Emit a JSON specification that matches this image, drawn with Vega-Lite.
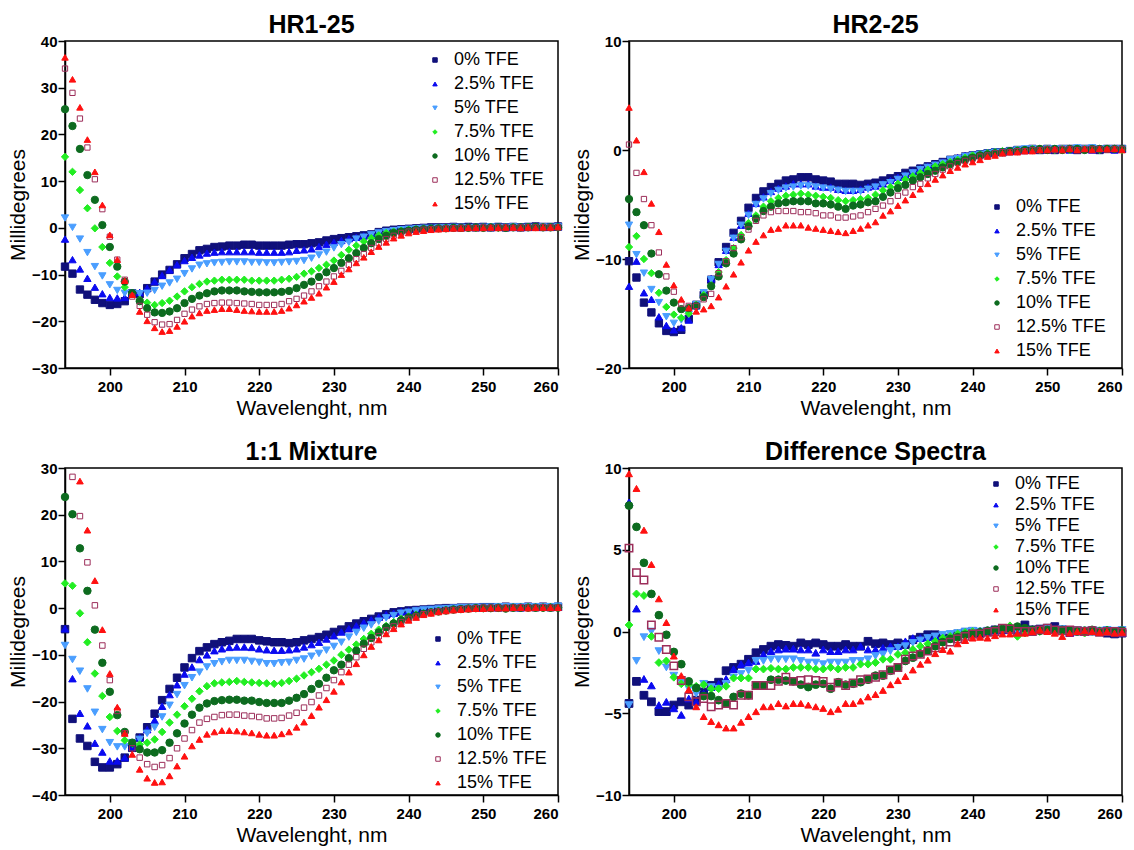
{
"$schema": "https://vega.github.io/schema/vega-lite/v6.json",
"padding": {"left": 6, "top": 12, "right": 5, "bottom": 5},
"background": "white",
"config": {
  "font": "Liberation Sans",
  "view": {"stroke": "black", "strokeWidth": 1.5},
  "axis": {"domainColor": "black", "domainWidth": 1.5, "tickColor": "black", "tickWidth": 1.5, "tickSize": 7, "labelFont": "Liberation Sans", "labelFontWeight": "bold", "labelFontSize": 15, "labelColor": "black", "titleFont": "Liberation Sans", "titleFontWeight": "normal", "titleFontSize": 21, "titleColor": "black", "grid": false},
  "axisX": {"titlePadding": 3, "labelPadding": 4},
  "axisY": {"titlePadding": 3, "labelPadding": 1},
  "title": {"font": "Liberation Sans", "fontSize": 25, "fontWeight": "bold", "color": "black", "offset": -4, "anchor": "middle"},
  "legend": {"labelFont": "Liberation Sans", "labelFontSize": 18, "labelColor": "black", "symbolSize": 20, "labelOffset": 10, "padding": 0, "rowPadding": 6, "symbolStrokeWidth": 1}
},
"datasets": {
"p1": [
{"x":194,"a":-8.3,"b":-2.4,"c":2.1,"d":15.2,"e":25.4,"f":34.1,"g":36.5},
{"x":195,"a":-9.8,"b":-6.8,"c":0.1,"d":12,"e":21.8,"f":28.9,"g":31.8},
{"x":196,"a":-13.2,"b":-8.8,"c":-2.4,"d":8.1,"e":16.9,"f":23.4,"g":25.8},
{"x":197,"a":-14.3,"b":-10.8,"c":-5.3,"d":4.2,"e":11.3,"f":17.2,"g":18.9},
{"x":198,"a":-15.4,"b":-12.7,"c":-8.3,"d":-0.1,"e":6,"f":10.4,"g":12},
{"x":199,"a":-16.1,"b":-14.1,"c":-10.3,"d":-4.1,"e":0.6,"f":4,"g":4.9},
{"x":200,"a":-16.5,"b":-14.9,"c":-12.2,"d":-7.5,"e":-4.1,"f":-1.9,"g":-1.5},
{"x":201,"a":-16.3,"b":-15,"c":-13.4,"d":-10.4,"e":-8.3,"f":-6.8,"g":-6.8},
{"x":202,"a":-15.7,"b":-14.9,"c":-14,"d":-12.7,"e":-11.5,"f":-11.1,"g":-11.3},
{"x":203,"a":-14,"b":-14,"c":-14,"d":-14,"e":-14,"f":-14.7,"g":-14.3},
{"x":204,"a":-14.2,"b":-13.8,"c":-14.1,"d":-15.4,"e":-15.7,"f":-16.7,"g":-17.9},
{"x":205,"a":-12.9,"b":-12.9,"c":-14,"d":-16,"e":-17.2,"f":-18.6,"g":-19.9},
{"x":206,"a":-11.5,"b":-11.5,"c":-13.4,"d":-16.5,"e":-18.1,"f":-20.2,"g":-21.4},
{"x":207,"a":-10,"b":-10.2,"c":-12.5,"d":-16.1,"e":-18.2,"f":-20.7,"g":-22.2},
{"x":208,"a":-9,"b":-9,"c":-11.8,"d":-15.6,"e":-17.9,"f":-20.6,"g":-22},
{"x":209,"a":-7.8,"b":-7.9,"c":-11,"d":-14.7,"e":-17.2,"f":-19.7,"g":-21.1},
{"x":210,"a":-6.5,"b":-7,"c":-9.8,"d":-13.6,"e":-16.1,"f":-18.4,"g":-20},
{"x":211,"a":-5.6,"b":-6.3,"c":-8.8,"d":-12.7,"e":-15.2,"f":-17.5,"g":-18.9},
{"x":212,"a":-4.8,"b":-5.8,"c":-8,"d":-12,"e":-14.5,"f":-16.8,"g":-18.2},
{"x":213,"a":-4.5,"b":-5.4,"c":-7.7,"d":-11.5,"e":-14,"f":-16.3,"g":-17.7},
{"x":214,"a":-4.1,"b":-5.2,"c":-7.5,"d":-11.3,"e":-13.6,"f":-16.1,"g":-17.5},
{"x":215,"a":-4,"b":-5.1,"c":-7.4,"d":-11.1,"e":-13.4,"f":-16,"g":-17.3},
{"x":216,"a":-3.8,"b":-5.1,"c":-7.3,"d":-11.1,"e":-13.4,"f":-16,"g":-17.3},
{"x":217,"a":-3.8,"b":-5.1,"c":-7.3,"d":-11.1,"e":-13.4,"f":-16.1,"g":-17.5},
{"x":218,"a":-3.6,"b":-5.1,"c":-7.3,"d":-11.1,"e":-13.6,"f":-16.2,"g":-17.7},
{"x":219,"a":-3.6,"b":-5.1,"c":-7.4,"d":-11.3,"e":-13.7,"f":-16.3,"g":-17.8},
{"x":220,"a":-3.8,"b":-5.2,"c":-7.4,"d":-11.3,"e":-13.8,"f":-16.5,"g":-17.9},
{"x":221,"a":-3.8,"b":-5.2,"c":-7.5,"d":-11.3,"e":-13.8,"f":-16.5,"g":-17.9},
{"x":222,"a":-3.8,"b":-5.2,"c":-7.5,"d":-11.3,"e":-13.8,"f":-16.5,"g":-17.9},
{"x":223,"a":-3.8,"b":-5.2,"c":-7.4,"d":-11.1,"e":-13.7,"f":-16.3,"g":-17.7},
{"x":224,"a":-3.6,"b":-5.1,"c":-7.3,"d":-10.9,"e":-13.5,"f":-15.7,"g":-17.2},
{"x":225,"a":-3.5,"b":-4.8,"c":-7.2,"d":-10.5,"e":-12.9,"f":-15.2,"g":-16.5},
{"x":226,"a":-3.5,"b":-4.7,"c":-7,"d":-9.8,"e":-12.2,"f":-14.5,"g":-15.7},
{"x":227,"a":-3.3,"b":-4.5,"c":-6.5,"d":-9.3,"e":-11.5,"f":-13.6,"g":-14.9},
{"x":228,"a":-3.1,"b":-4,"c":-5.8,"d":-8.6,"e":-10.5,"f":-12.5,"g":-14},
{"x":229,"a":-2.7,"b":-3.5,"c":-5.2,"d":-7.9,"e":-9.5,"f":-11.5,"g":-12.7},
{"x":230,"a":-2.4,"b":-3.1,"c":-4.3,"d":-7,"e":-8.6,"f":-10.4,"g":-11.5},
{"x":231,"a":-2.2,"b":-2.7,"c":-3.6,"d":-5.8,"e":-7.5,"f":-9.2,"g":-10},
{"x":232,"a":-2,"b":-2.3,"c":-3.1,"d":-4.7,"e":-6.5,"f":-7.9,"g":-8.8},
{"x":233,"a":-1.8,"b":-2,"c":-2.4,"d":-3.8,"e":-5.4,"f":-6.7,"g":-7.5},
{"x":234,"a":-1.6,"b":-1.7,"c":-2,"d":-2.9,"e":-4.3,"f":-5.6,"g":-6.3},
{"x":235,"a":-1.4,"b":-1.4,"c":-1.5,"d":-2.2,"e":-3.3,"f":-4.3,"g":-5.1},
{"x":236,"a":-0.9,"b":-1,"c":-1.1,"d":-1.6,"e":-2.4,"f":-3.3,"g":-4},
{"x":237,"a":-0.6,"b":-0.8,"c":-0.8,"d":-1.1,"e":-1.7,"f":-2.4,"g":-3.1},
{"x":238,"a":-0.4,"b":-0.6,"c":-0.6,"d":-0.8,"e":-1.1,"f":-1.7,"g":-2.2},
{"x":239,"a":-0.3,"b":-0.4,"c":-0.4,"d":-0.6,"e":-0.8,"f":-1.1,"g":-1.6},
{"x":240,"a":-0.2,"b":-0.3,"c":-0.3,"d":-0.4,"e":-0.6,"f":-0.8,"g":-1.1},
{"x":241,"a":-0.1,"b":-0.2,"c":-0.2,"d":-0.3,"e":-0.4,"f":-0.6,"g":-0.8},
{"x":242,"a":0,"b":-0.1,"c":-0.1,"d":-0.2,"e":-0.3,"f":-0.4,"g":-0.6},
{"x":243,"a":0.1,"b":0,"c":-0.1,"d":-0.1,"e":-0.2,"f":-0.3,"g":-0.4},
{"x":244,"a":0.1,"b":0,"c":0,"d":-0.1,"e":-0.1,"f":-0.2,"g":-0.3},
{"x":245,"a":0.1,"b":0.1,"c":0,"d":0,"e":-0.1,"f":-0.1,"g":-0.2},
{"x":246,"a":0.2,"b":0.1,"c":0.1,"d":0,"e":0,"f":-0.1,"g":-0.1},
{"x":247,"a":0.1,"b":0.1,"c":0.1,"d":0,"e":0,"f":0,"g":-0.1},
{"x":248,"a":0.2,"b":0.1,"c":0,"d":0.1,"e":0,"f":0,"g":0},
{"x":249,"a":0.1,"b":0.2,"c":0.1,"d":0,"e":0.1,"f":0,"g":0},
{"x":250,"a":0.2,"b":0.1,"c":0.1,"d":0.1,"e":0,"f":0.1,"g":0},
{"x":251,"a":0.1,"b":0.1,"c":0.2,"d":0.1,"e":0.1,"f":0,"g":0.1},
{"x":252,"a":0.2,"b":0.2,"c":0.1,"d":0,"e":0.1,"f":0.1,"g":0},
{"x":253,"a":0.1,"b":0.1,"c":0.1,"d":0.1,"e":0,"f":0.1,"g":0.1},
{"x":254,"a":0.2,"b":0.1,"c":0.2,"d":0.1,"e":0.1,"f":0,"g":0.1},
{"x":255,"a":0.1,"b":0.2,"c":0.1,"d":0.1,"e":0.1,"f":0.1,"g":0},
{"x":256,"a":0.2,"b":0.1,"c":0.1,"d":0.2,"e":0.1,"f":0.1,"g":0.1},
{"x":257,"a":0.3,"b":0.2,"c":0.1,"d":0.1,"e":0.2,"f":0.1,"g":0},
{"x":258,"a":0.2,"b":0.1,"c":0.2,"d":0.1,"e":0.1,"f":0.2,"g":0.1},
{"x":259,"a":0.2,"b":0.2,"c":0.1,"d":0.2,"e":0.1,"f":0.1,"g":0.1},
{"x":260,"a":0.3,"b":0.2,"c":0.2,"d":0.1,"e":0.1,"f":0.1,"g":0.2}
],
"p2": [
{"x":194,"a":-10.2,"b":-12.5,"c":-6.9,"d":-8.9,"e":-4.5,"f":0.5,"g":3.9},
{"x":195,"a":-11.7,"b":-10.2,"c":-9.6,"d":-7.9,"e":-5.7,"f":-2.1,"g":0.9},
{"x":196,"a":-14,"b":-13.1,"c":-11.3,"d":-10,"e":-6.9,"f":-4.5,"g":-2},
{"x":197,"a":-14.9,"b":-13.7,"c":-12.8,"d":-11.3,"e":-9.5,"f":-6.9,"g":-4.9},
{"x":198,"a":-15.9,"b":-15.3,"c":-14,"d":-13.1,"e":-11.4,"f":-9.4,"g":-7.5},
{"x":199,"a":-16.6,"b":-16.1,"c":-15.3,"d":-14.4,"e":-12.9,"f":-11.6,"g":-10.5},
{"x":200,"a":-16.7,"b":-16.5,"c":-15.9,"d":-15.1,"e":-14,"f":-13,"g":-12.4},
{"x":201,"a":-16.5,"b":-16.3,"c":-15.6,"d":-15.4,"e":-14.6,"f":-14.1,"g":-13.7},
{"x":202,"a":-15.5,"b":-15.6,"c":-15.1,"d":-15,"e":-14.5,"f":-14.3,"g":-14.5},
{"x":203,"a":-14.2,"b":-14.3,"c":-14.2,"d":-14.2,"e":-14.3,"f":-14.3,"g":-14.8},
{"x":204,"a":-13.3,"b":-13.1,"c":-13.1,"d":-13.3,"e":-13.5,"f":-13.7,"g":-14.6},
{"x":205,"a":-11.9,"b":-11.8,"c":-11.9,"d":-12.4,"e":-12.5,"f":-13.2,"g":-14.3},
{"x":206,"a":-10.3,"b":-10.5,"c":-10.5,"d":-11.2,"e":-11.6,"f":-11.3,"g":-13.5},
{"x":207,"a":-8.9,"b":-9.2,"c":-9.3,"d":-10.1,"e":-10.4,"f":-10.2,"g":-12.5},
{"x":208,"a":-7.6,"b":-8,"c":-8.1,"d":-9,"e":-9.5,"f":-9,"g":-11.4},
{"x":209,"a":-6.5,"b":-6.9,"c":-6.9,"d":-7.8,"e":-8.2,"f":-8,"g":-10.3},
{"x":210,"a":-5.3,"b":-5.8,"c":-6,"d":-6.7,"e":-7,"f":-7.3,"g":-9.2},
{"x":211,"a":-4.4,"b":-4.9,"c":-5,"d":-6,"e":-6.3,"f":-6.5,"g":-8.4},
{"x":212,"a":-3.8,"b":-4.3,"c":-4.5,"d":-5.2,"e":-5.6,"f":-6,"g":-7.8},
{"x":213,"a":-3.4,"b":-3.8,"c":-4,"d":-4.7,"e":-5.2,"f":-5.7,"g":-7.3},
{"x":214,"a":-3.1,"b":-3.5,"c":-3.7,"d":-4.4,"e":-4.9,"f":-5.6,"g":-7.2},
{"x":215,"a":-2.8,"b":-3.3,"c":-3.5,"d":-4.2,"e":-4.8,"f":-5.6,"g":-6.9},
{"x":216,"a":-2.7,"b":-3.1,"c":-3.4,"d":-4.1,"e":-4.7,"f":-5.6,"g":-6.9},
{"x":217,"a":-2.5,"b":-3.1,"c":-3.3,"d":-4,"e":-4.7,"f":-5.7,"g":-6.9},
{"x":218,"a":-2.5,"b":-3.1,"c":-3.3,"d":-4.1,"e":-4.7,"f":-5.7,"g":-7.1},
{"x":219,"a":-2.7,"b":-3.3,"c":-3.4,"d":-4.2,"e":-4.9,"f":-5.8,"g":-7.2},
{"x":220,"a":-2.8,"b":-3.4,"c":-3.5,"d":-4.3,"e":-4.9,"f":-6,"g":-7.3},
{"x":221,"a":-2.9,"b":-3.4,"c":-3.6,"d":-4.4,"e":-5,"f":-6,"g":-7.4},
{"x":222,"a":-3.1,"b":-3.6,"c":-3.7,"d":-4.6,"e":-5.2,"f":-6.2,"g":-7.5},
{"x":223,"a":-3.1,"b":-3.7,"c":-3.8,"d":-4.7,"e":-5.4,"f":-6.2,"g":-7.6},
{"x":224,"a":-3.1,"b":-3.7,"c":-3.8,"d":-4.6,"e":-5.1,"f":-6.1,"g":-7.4},
{"x":225,"a":-3.2,"b":-3.6,"c":-3.8,"d":-4.5,"e":-5,"f":-6,"g":-7.2},
{"x":226,"a":-3.1,"b":-3.4,"c":-3.6,"d":-4.4,"e":-4.8,"f":-5.7,"g":-6.9},
{"x":227,"a":-3,"b":-3.3,"c":-3.4,"d":-4.1,"e":-4.7,"f":-5.4,"g":-6.6},
{"x":228,"a":-2.8,"b":-3.1,"c":-3.2,"d":-3.7,"e":-4.3,"f":-5.1,"g":-6},
{"x":229,"a":-2.6,"b":-2.8,"c":-3,"d":-3.4,"e":-3.9,"f":-4.7,"g":-5.6},
{"x":230,"a":-2.4,"b":-2.5,"c":-2.7,"d":-3.1,"e":-3.5,"f":-4.2,"g":-5.1},
{"x":231,"a":-2.1,"b":-2.3,"c":-2.4,"d":-2.7,"e":-3.2,"f":-3.9,"g":-4.6},
{"x":232,"a":-1.9,"b":-2,"c":-2.1,"d":-2.4,"e":-2.8,"f":-3.4,"g":-4.1},
{"x":233,"a":-1.7,"b":-1.7,"c":-1.8,"d":-2.1,"e":-2.5,"f":-3.1,"g":-3.6},
{"x":234,"a":-1.5,"b":-1.5,"c":-1.6,"d":-1.8,"e":-2.2,"f":-2.6,"g":-3.1},
{"x":235,"a":-1.3,"b":-1.3,"c":-1.4,"d":-1.5,"e":-1.9,"f":-2.2,"g":-2.7},
{"x":236,"a":-1.1,"b":-1.1,"c":-1.2,"d":-1.3,"e":-1.6,"f":-1.8,"g":-2.3},
{"x":237,"a":-0.9,"b":-0.9,"c":-0.9,"d":-1.1,"e":-1.3,"f":-1.5,"g":-1.9},
{"x":238,"a":-0.8,"b":-0.7,"c":-0.8,"d":-0.9,"e":-1.1,"f":-1.2,"g":-1.6},
{"x":239,"a":-0.6,"b":-0.5,"c":-0.6,"d":-0.7,"e":-0.9,"f":-1,"g":-1.3},
{"x":240,"a":-0.5,"b":-0.4,"c":-0.5,"d":-0.5,"e":-0.7,"f":-0.8,"g":-1.1},
{"x":241,"a":-0.4,"b":-0.3,"c":-0.4,"d":-0.4,"e":-0.5,"f":-0.6,"g":-0.9},
{"x":242,"a":-0.3,"b":-0.3,"c":-0.3,"d":-0.3,"e":-0.4,"f":-0.5,"g":-0.6},
{"x":243,"a":-0.2,"b":-0.2,"c":-0.2,"d":-0.2,"e":-0.3,"f":-0.3,"g":-0.5},
{"x":244,"a":-0.2,"b":-0.1,"c":-0.2,"d":-0.1,"e":-0.2,"f":-0.2,"g":-0.3},
{"x":245,"a":-0.1,"b":-0.1,"c":-0.1,"d":-0.1,"e":-0.1,"f":-0.2,"g":-0.2},
{"x":246,"a":0,"b":-0.1,"c":0,"d":0,"e":-0.1,"f":-0.1,"g":-0.2},
{"x":247,"a":0,"b":0,"c":0.1,"d":0,"e":0,"f":-0.1,"g":-0.1},
{"x":248,"a":0.1,"b":0,"c":0.1,"d":0.1,"e":0,"f":0,"g":-0.1},
{"x":249,"a":0,"b":0.1,"c":0,"d":0,"e":0.1,"f":0,"g":0},
{"x":250,"a":0.1,"b":0,"c":0.1,"d":0.1,"e":0,"f":0.1,"g":0},
{"x":251,"a":0,"b":0.1,"c":0.1,"d":0,"e":0.1,"f":0,"g":0.1},
{"x":252,"a":0.1,"b":0.1,"c":0.1,"d":0.1,"e":0,"f":0.1,"g":0},
{"x":253,"a":0.1,"b":0,"c":0.1,"d":0,"e":0.1,"f":0.1,"g":0.1},
{"x":254,"a":0,"b":0.1,"c":0.2,"d":0.1,"e":0.1,"f":0,"g":0},
{"x":255,"a":0.1,"b":0.1,"c":0.1,"d":0.1,"e":0,"f":0.1,"g":0.1},
{"x":256,"a":0.1,"b":0,"c":0.2,"d":0.1,"e":0.1,"f":0.1,"g":0},
{"x":257,"a":0,"b":0.1,"c":0.1,"d":0,"e":0.1,"f":0.1,"g":0.1},
{"x":258,"a":0.1,"b":0.1,"c":0.1,"d":0.1,"e":0.1,"f":0,"g":0.1},
{"x":259,"a":0.1,"b":0,"c":0.1,"d":0.1,"e":0.1,"f":0.1,"g":0.1},
{"x":260,"a":0.1,"b":0.1,"c":0.1,"d":0,"e":0.1,"f":0.1,"g":0}
],
"p3": [
{"x":194,"a":-4.5,"b":-4.4,"c":-8,"d":5.3,"e":23.8},
{"x":195,"a":-23.7,"b":-15.1,"c":-11,"d":4.8,"e":20.1,"f":28.1},
{"x":196,"a":-27.9,"b":-22.5,"c":-13.5,"d":-1.1,"e":12.8,"f":19.7,"g":27.2},
{"x":197,"a":-29.5,"b":-25.2,"c":-17.3,"d":-7.3,"e":3.7,"f":9.8,"g":16.7},
{"x":198,"a":-32.9,"b":-28.9,"c":-22.3,"d":-14,"e":-4.6,"f":0.6,"g":5.9},
{"x":199,"a":-34.1,"b":-30.8,"c":-26,"d":-18.8,"e":-11.7,"f":-8,"g":-4.6},
{"x":200,"a":-34.1,"b":-32.7,"c":-28.8,"d":-23.3,"e":-17.9,"f":-15.4,"g":-14},
{"x":201,"a":-33.4,"b":-32.7,"c":-29.7,"d":-26.3,"e":-22.9,"f":-22,"g":-21.2},
{"x":202,"a":-32,"b":-32,"c":-29.7,"d":-28.3,"e":-26.5,"f":-26.8,"g":-26.8},
{"x":203,"a":-29.9,"b":-29.7,"c":-28.8,"d":-29,"e":-28.8,"f":-30,"g":-31.3},
{"x":204,"a":-27.7,"b":-27.7,"c":-28.1,"d":-29.2,"e":-30.2,"f":-32,"g":-34.5},
{"x":205,"a":-25.5,"b":-26,"c":-26.8,"d":-28.8,"e":-30.9,"f":-33.4,"g":-36.4},
{"x":206,"a":-22.6,"b":-24,"c":-25.5,"d":-28.1,"e":-30.9,"f":-34,"g":-37.3},
{"x":207,"a":-19.7,"b":-21,"c":-23.3,"d":-26.5,"e":-30.4,"f":-33.6,"g":-37.2},
{"x":208,"a":-17.3,"b":-18.5,"c":-20.8,"d":-24.5,"e":-28.8,"f":-32.1,"g":-35.9},
{"x":209,"a":-14.9,"b":-16.4,"c":-18.5,"d":-22.8,"e":-26.8,"f":-30,"g":-33.8},
{"x":210,"a":-12.7,"b":-14.1,"c":-16.6,"d":-21,"e":-24.7,"f":-27.9,"g":-31.7},
{"x":211,"a":-10.7,"b":-12.6,"c":-14.9,"d":-19.4,"e":-22.8,"f":-26.1,"g":-29.5},
{"x":212,"a":-9.2,"b":-11,"c":-13.7,"d":-17.8,"e":-21.3,"f":-24.5,"g":-28.1},
{"x":213,"a":-8.4,"b":-10,"c":-12.6,"d":-16.7,"e":-20.4,"f":-23.7,"g":-27},
{"x":214,"a":-7.7,"b":-9.1,"c":-11.9,"d":-16.1,"e":-19.9,"f":-23.3,"g":-26.5},
{"x":215,"a":-7.3,"b":-8.7,"c":-11.5,"d":-15.9,"e":-19.7,"f":-22.9,"g":-26.2},
{"x":216,"a":-7,"b":-8.4,"c":-11.2,"d":-15.8,"e":-19.6,"f":-22.8,"g":-26.2},
{"x":217,"a":-6.6,"b":-8.3,"c":-11.2,"d":-15.6,"e":-19.6,"f":-22.8,"g":-26.3},
{"x":218,"a":-6.6,"b":-8.3,"c":-11.2,"d":-15.8,"e":-19.8,"f":-23,"g":-26.5},
{"x":219,"a":-6.6,"b":-8.4,"c":-11.4,"d":-15.9,"e":-19.8,"f":-23.1,"g":-26.7},
{"x":220,"a":-6.9,"b":-8.7,"c":-11.6,"d":-16,"e":-20.1,"f":-23.3,"g":-27},
{"x":221,"a":-7.1,"b":-8.9,"c":-11.9,"d":-16.1,"e":-20.3,"f":-23.6,"g":-27.2},
{"x":222,"a":-7.3,"b":-9,"c":-11.9,"d":-16.2,"e":-20.3,"f":-23.6,"g":-27.2},
{"x":223,"a":-7.3,"b":-9,"c":-11.7,"d":-16,"e":-20.3,"f":-23.5,"g":-26.9},
{"x":224,"a":-7.5,"b":-8.9,"c":-11.6,"d":-15.6,"e":-19.8,"f":-23,"g":-26.5},
{"x":225,"a":-7.3,"b":-8.7,"c":-11.2,"d":-15.1,"e":-19.2,"f":-22.4,"g":-25.5},
{"x":226,"a":-6.9,"b":-8.3,"c":-10.9,"d":-14.4,"e":-18.4,"f":-21.3,"g":-24.4},
{"x":227,"a":-6.6,"b":-7.8,"c":-10.3,"d":-13.7,"e":-17.3,"f":-20.1,"g":-23},
{"x":228,"a":-6.2,"b":-7.3,"c":-9.7,"d":-13,"e":-16.2,"f":-18.7,"g":-21.2},
{"x":229,"a":-5.7,"b":-6.6,"c":-9,"d":-12.1,"e":-14.9,"f":-17.1,"g":-19.6},
{"x":230,"a":-5.1,"b":-5.9,"c":-8.2,"d":-11.2,"e":-13.3,"f":-15.4,"g":-17.8},
{"x":231,"a":-4.6,"b":-5.1,"c":-7.3,"d":-10,"e":-12.1,"f":-13.7,"g":-15.8},
{"x":232,"a":-3.9,"b":-4.4,"c":-6.2,"d":-8.9,"e":-10.7,"f":-12.1,"g":-13.7},
{"x":233,"a":-3.3,"b":-3.8,"c":-5.2,"d":-7.8,"e":-9.1,"f":-10.5,"g":-11.9},
{"x":234,"a":-2.8,"b":-3.1,"c":-4.3,"d":-6.6,"e":-7.6,"f":-8.7,"g":-10},
{"x":235,"a":-2.3,"b":-2.5,"c":-3.6,"d":-5.5,"e":-6.4,"f":-7.3,"g":-8.2},
{"x":236,"a":-1.8,"b":-1.9,"c":-2.8,"d":-4.6,"e":-5.2,"f":-6,"g":-6.8},
{"x":237,"a":-1.3,"b":-1.4,"c":-2.1,"d":-3.8,"e":-4.1,"f":-4.8,"g":-5.5},
{"x":238,"a":-0.9,"b":-1.1,"c":-1.6,"d":-3,"e":-3.3,"f":-3.9,"g":-4.4},
{"x":239,"a":-0.7,"b":-0.7,"c":-1.1,"d":-2.3,"e":-2.6,"f":-3,"g":-3.4},
{"x":240,"a":-0.5,"b":-0.6,"c":-0.9,"d":-1.8,"e":-2,"f":-2.3,"g":-2.6},
{"x":241,"a":-0.4,"b":-0.4,"c":-0.6,"d":-1.4,"e":-1.6,"f":-1.8,"g":-2},
{"x":242,"a":-0.3,"b":-0.3,"c":-0.4,"d":-1.1,"e":-1.2,"f":-1.3,"g":-1.4},
{"x":243,"a":-0.2,"b":-0.2,"c":-0.3,"d":-0.8,"e":-0.9,"f":-0.9,"g":-1.1},
{"x":244,"a":-0.1,"b":-0.1,"c":-0.2,"d":-0.6,"e":-0.7,"f":-0.7,"g":-0.8},
{"x":245,"a":0,"b":0,"c":-0.1,"d":-0.4,"e":-0.5,"f":-0.5,"g":-0.6},
{"x":246,"a":0,"b":0.1,"c":0,"d":-0.3,"e":-0.3,"f":-0.4,"g":-0.4},
{"x":247,"a":0.1,"b":0.1,"c":0.1,"d":-0.2,"e":-0.2,"f":-0.2,"g":-0.3},
{"x":248,"a":0.1,"b":0.1,"c":0.1,"d":-0.1,"e":-0.1,"f":-0.1,"g":-0.2},
{"x":249,"a":0.1,"b":0.1,"c":0.2,"d":0,"e":0,"f":0,"g":-0.1},
{"x":250,"a":0.2,"b":0.1,"c":0.2,"d":0,"e":0,"f":0.1,"g":-0.1},
{"x":251,"a":0.2,"b":0.2,"c":0.2,"d":0.1,"e":0,"f":0.1,"g":0},
{"x":252,"a":0.2,"b":0.1,"c":0.3,"d":0,"e":0.1,"f":0.1,"g":0},
{"x":253,"a":0.3,"b":0.2,"c":0.3,"d":0.1,"e":-0.1,"f":0.1,"g":0},
{"x":254,"a":0.2,"b":0.2,"c":0.3,"d":0.1,"e":0.1,"f":0.1,"g":0.1},
{"x":255,"a":0.2,"b":0.1,"c":0.3,"d":0.1,"e":0.1,"f":0.2,"g":0.1},
{"x":256,"a":0.3,"b":0.2,"c":0.3,"d":0.2,"e":0.1,"f":0.1,"g":0},
{"x":257,"a":0.2,"b":0.2,"c":0.3,"d":0.1,"e":0.1,"f":0.1,"g":0.1},
{"x":258,"a":0.3,"b":0.2,"c":0.3,"d":0.1,"e":0.1,"f":0.2,"g":0.1},
{"x":259,"a":0.2,"b":0.3,"c":0.3,"d":0.2,"e":0.1,"f":0.1,"g":0.1},
{"x":260,"a":0.3,"b":0.2,"c":0.4,"d":0.1,"e":0.1,"f":0.1,"g":0.1}
],
"p4": [
{"x":194,"a":-4.4,"b":7.9,"c":-4.5,"d":0.4,"e":7.7,"f":5.1,"g":9.65},
{"x":195,"a":-3.05,"b":1.4,"c":-1.8,"d":2.3,"e":6.4,"f":3.6,"g":8.75},
{"x":196,"a":-3.9,"b":-2.9,"c":-0.35,"d":2.2,"e":4.2,"f":3.15,"g":6.2},
{"x":197,"a":-4.3,"b":-3.3,"c":0,"d":-0.3,"e":2.3,"f":0.4,"g":4.1},
{"x":198,"a":-4.9,"b":-4.5,"c":-1.2,"d":-1.9,"e":1,"f":-0.35,"g":2},
{"x":199,"a":-4.9,"b":-4.3,"c":-2.2,"d":-1.8,"e":-0.2,"f":-1.1,"g":0.55},
{"x":200,"a":-4.5,"b":-4.7,"c":-2.7,"d":-2.8,"e":-1.25,"f":-2.1,"g":-1.5},
{"x":201,"a":-4.3,"b":-5.1,"c":-3.1,"d":-3.2,"e":-2,"f":-3,"g":-2.7},
{"x":202,"a":-4.5,"b":-4.1,"c":-3.5,"d":-3.25,"e":-3.05,"f":-4,"g":-3.55},
{"x":203,"a":-4.2,"b":-4.3,"c":-3.8,"d":-3.35,"e":-3.45,"f":-4.3,"g":-4.6},
{"x":204,"a":-3.7,"b":-3.8,"c":-3.2,"d":-3.25,"e":-3.95,"f":-4.1,"g":-5.2},
{"x":205,"a":-3.3,"b":-3.4,"c":-3.4,"d":-3.5,"e":-3.95,"f":-4.6,"g":-5.5},
{"x":206,"a":-3.1,"b":-3.2,"c":-3.5,"d":-3.5,"e":-4.2,"f":-4.5,"g":-5.7},
{"x":207,"a":-2.4,"b":-2.9,"c":-3.2,"d":-3.35,"e":-4.4,"f":-4.4,"g":-5.9},
{"x":208,"a":-2.2,"b":-2.3,"c":-2.8,"d":-2.85,"e":-4,"f":-4.5,"g":-5.9},
{"x":209,"a":-2,"b":-2,"c":-2.6,"d":-2.85,"e":-3.8,"f":-3.9,"g":-5.55},
{"x":210,"a":-1.7,"b":-1.9,"c":-2.4,"d":-2.85,"e":-3.9,"f":-3.9,"g":-5.2},
{"x":211,"a":-1.3,"b":-1.8,"c":-1.8,"d":-2.3,"e":-3.3,"f":-3.3,"g":-4.9},
{"x":212,"a":-1.1,"b":-1.4,"c":-1.8,"d":-2.3,"e":-3.3,"f":-3.3,"g":-4.6},
{"x":213,"a":-0.9,"b":-1.2,"c":-1.7,"d":-2.25,"e":-2.95,"f":-3.3,"g":-4.6},
{"x":214,"a":-0.8,"b":-1.1,"c":-1.7,"d":-2.3,"e":-2.95,"f":-3.05,"g":-4.4},
{"x":215,"a":-0.85,"b":-1.05,"c":-1.7,"d":-2.3,"e":-3,"f":-2.8,"g":-4.55},
{"x":216,"a":-0.9,"b":-1.05,"c":-1.7,"d":-2.2,"e":-3.05,"f":-3.05,"g":-4.4},
{"x":217,"a":-0.7,"b":-1.1,"c":-1.8,"d":-2.2,"e":-3.25,"f":-3,"g":-4.4},
{"x":218,"a":-0.8,"b":-1.1,"c":-1.9,"d":-2.2,"e":-3.4,"f":-2.95,"g":-4.5},
{"x":219,"a":-0.7,"b":-1.3,"c":-1.9,"d":-2.3,"e":-3.25,"f":-3,"g":-4.6},
{"x":220,"a":-0.8,"b":-1.1,"c":-2,"d":-2.3,"e":-3.2,"f":-3.05,"g":-4.7},
{"x":221,"a":-0.9,"b":-1.2,"c":-1.9,"d":-2.2,"e":-3.5,"f":-3.4,"g":-4.9},
{"x":222,"a":-0.9,"b":-1.2,"c":-1.9,"d":-2.3,"e":-3.1,"f":-3.15,"g":-4.75},
{"x":223,"a":-0.8,"b":-1.1,"c":-1.9,"d":-2.2,"e":-3.25,"f":-3.3,"g":-4.4},
{"x":224,"a":-0.9,"b":-1.1,"c":-1.8,"d":-2.2,"e":-3.2,"f":-3.15,"g":-4.4},
{"x":225,"a":-0.9,"b":-0.9,"c":-1.8,"d":-2,"e":-3.1,"f":-2.95,"g":-4.25},
{"x":226,"a":-0.6,"b":-1.1,"c":-1.7,"d":-2,"e":-2.95,"f":-2.9,"g":-4},
{"x":227,"a":-0.75,"b":-1.1,"c":-1.5,"d":-1.9,"e":-2.7,"f":-2.8,"g":-3.85},
{"x":228,"a":-0.7,"b":-1,"c":-1.4,"d":-1.7,"e":-2.7,"f":-2.65,"g":-3.6},
{"x":229,"a":-0.8,"b":-0.9,"c":-1.2,"d":-1.7,"e":-2.4,"f":-2.35,"g":-3.25},
{"x":230,"a":-0.7,"b":-0.9,"c":-1,"d":-1.4,"e":-2.2,"f":-2.2,"g":-3},
{"x":231,"a":-0.8,"b":-0.6,"c":-0.9,"d":-1.3,"e":-1.8,"f":-1.7,"g":-2.75},
{"x":232,"a":-0.5,"b":-0.4,"c":-0.7,"d":-1.1,"e":-1.6,"f":-1.5,"g":-2.35},
{"x":233,"a":-0.35,"b":-0.4,"c":-0.55,"d":-0.9,"e":-1.35,"f":-1.4,"g":-2},
{"x":234,"a":-0.2,"b":-0.35,"c":-0.4,"d":-0.75,"e":-1.15,"f":-1.2,"g":-1.75},
{"x":235,"a":-0.2,"b":-0.3,"c":-0.3,"d":-0.6,"e":-0.9,"f":-1,"g":-1.35},
{"x":236,"a":-0.4,"b":-0.25,"c":-0.2,"d":-0.4,"e":-0.65,"f":-0.8,"g":-1.1},
{"x":237,"a":-0.4,"b":-0.15,"c":-0.15,"d":-0.3,"e":-0.45,"f":-0.65,"g":-1.2},
{"x":238,"a":-0.15,"b":-0.1,"c":-0.1,"d":-0.15,"e":-0.35,"f":-0.45,"g":-0.75},
{"x":239,"a":-0.05,"b":0,"c":0,"d":-0.05,"e":-0.2,"f":-0.3,"g":-0.55},
{"x":240,"a":0,"b":0,"c":0.05,"d":0,"e":-0.15,"f":-0.15,"g":-0.4},
{"x":241,"a":-0.1,"b":0.05,"c":0,"d":0,"e":-0.05,"f":-0.15,"g":-0.35},
{"x":242,"a":0,"b":0,"c":0.05,"d":0.05,"e":0.05,"f":-0.05,"g":-0.4},
{"x":243,"a":0.1,"b":0.05,"c":0.05,"d":0.1,"e":0.1,"f":0,"g":-0.25},
{"x":244,"a":0.1,"b":0.1,"c":0.1,"d":0.15,"e":0.15,"f":0.2,"g":-0.15},
{"x":245,"a":0.15,"b":0.1,"c":0.05,"d":0.35,"e":0.2,"f":0.15,"g":-0.15},
{"x":246,"a":0.15,"b":0.05,"c":0,"d":-0.3,"e":0.3,"f":0,"g":-0.1},
{"x":247,"a":0.4,"b":0.1,"c":0.1,"d":-0.1,"e":0.2,"f":0,"g":-0.1},
{"x":248,"a":0.1,"b":0.15,"c":0.05,"d":0.1,"e":0.1,"f":0,"g":0},
{"x":249,"a":0.15,"b":0.1,"c":0.1,"d":0,"e":0.05,"f":0.1,"g":0.1},
{"x":250,"a":0.2,"b":0.1,"c":0.15,"d":0.05,"e":0.1,"f":0.2,"g":0},
{"x":251,"a":0.3,"b":0.1,"c":0.1,"d":0,"e":0.05,"f":0.1,"g":-0.1},
{"x":252,"a":0.1,"b":0.05,"c":0.15,"d":-0.05,"e":0.1,"f":0.05,"g":-0.3},
{"x":253,"a":0,"b":-0.1,"c":0.05,"d":0,"e":0.05,"f":0.1,"g":-0.1},
{"x":254,"a":0.05,"b":0,"c":0.1,"d":0.05,"e":0,"f":0.05,"g":0},
{"x":255,"a":0,"b":0.05,"c":0.05,"d":-0.1,"e":0.05,"f":0,"g":0.05},
{"x":256,"a":0.05,"b":0,"c":0.1,"d":0,"e":0.1,"f":0.05,"g":0},
{"x":257,"a":0,"b":0.05,"c":0.05,"d":0.05,"e":0,"f":-0.05,"g":-0.05},
{"x":258,"a":-0.1,"b":0,"c":0.1,"d":0.1,"e":0.05,"f":0,"g":0},
{"x":259,"a":-0.15,"b":-0.05,"c":0.05,"d":0,"e":0,"f":0,"g":-0.1},
{"x":260,"a":-0.1,"b":-0.1,"c":0.1,"d":0,"e":0.05,"f":-0.05,"g":-0.05}
]
},
"columns": 2,
"spacing": {"row": 100, "column": 71},
"bounds": "flush",
"concat": [
{
  "title": "HR1-25",
  "width": 493, "height": 327,
  "data": {"name": "p1"},
  "transform": [{"fold": ["a","b","c","d","e","f","g"], "as": ["k","v"]}],
  "encoding": {
    "x": {"field": "x", "type": "quantitative", "scale": {"domain": [194, 260], "nice": false, "zero": false}, "axis": {"values": [200,210,220,230,240,250,260], "title": "Wavelenght, nm"}},
    "y": {"field": "v", "type": "quantitative", "scale": {"domain": [-30, 40], "nice": false}, "axis": {"values": [-30,-20,-10,0,10,20,30,40], "title": "Millidegrees"}},
    "fill": {"field": "k", "type": "nominal", "scale": {"domain": ["a","b","c","d","e","f","g"], "range": ["#10107a","#0a0af0","#4a9eff","#22ee22","#0d6b1f","transparent","#ff1010"]}, "legend": {"title": null, "orient": "none", "legendX": 361, "legendY": 10, "rowPadding": 6, "labelExpr": "['0% TFE','2.5% TFE','5% TFE','7.5% TFE','10% TFE','12.5% TFE','15% TFE'][indexof(['a','b','c','d','e','f','g'],datum.label)]"}},
    "stroke": {"field": "k", "type": "nominal", "scale": {"domain": ["a","b","c","d","e","f","g"], "range": ["#10107a","#0a0af0","#4a9eff","#22ee22","#0d6b1f","#9c2e5a","#ff1010"]}, "legend": {"title": null, "orient": "none", "legendX": 361, "legendY": 10, "rowPadding": 6, "labelExpr": "['0% TFE','2.5% TFE','5% TFE','7.5% TFE','10% TFE','12.5% TFE','15% TFE'][indexof(['a','b','c','d','e','f','g'],datum.label)]"}},
    "shape": {"field": "k", "type": "nominal", "scale": {"domain": ["a","b","c","d","e","f","g"], "range": ["square","triangle-up","triangle-down","diamond","circle","square","triangle-up"]}, "legend": {"title": null, "orient": "none", "legendX": 361, "legendY": 10, "rowPadding": 6, "labelExpr": "['0% TFE','2.5% TFE','5% TFE','7.5% TFE','10% TFE','12.5% TFE','15% TFE'][indexof(['a','b','c','d','e','f','g'],datum.label)]"}},
    "order": {"field": "k", "type": "ordinal"}
  },
  "layer": [
    {"transform": [{"filter": {"field": "k", "oneOf": ["a","b","c","d","e"]}}], "mark": {"type": "point", "opacity": 1, "strokeWidth": 1, "size": 54}},
    {"transform": [{"filter": {"field": "k", "equal": "f"}}], "mark": {"type": "point", "opacity": 1, "strokeWidth": 1, "size": 28}},
    {"transform": [{"filter": {"field": "k", "equal": "g"}}], "mark": {"type": "point", "opacity": 1, "strokeWidth": 1, "size": 42}}
  ]
},
{
  "title": "HR2-25",
  "width": 493, "height": 327,
  "data": {"name": "p2"},
  "transform": [{"fold": ["a","b","c","d","e","f","g"], "as": ["k","v"]}],
  "encoding": {
    "x": {"field": "x", "type": "quantitative", "scale": {"domain": [194, 260], "nice": false, "zero": false}, "axis": {"values": [200,210,220,230,240,250,260], "title": "Wavelenght, nm"}},
    "y": {"field": "v", "type": "quantitative", "scale": {"domain": [-20, 10], "nice": false}, "axis": {"values": [-20,-10,0,10], "title": "Millidegrees"}},
    "fill": {"field": "k", "type": "nominal", "scale": {"domain": ["a","b","c","d","e","f","g"], "range": ["#10107a","#0a0af0","#4a9eff","#22ee22","#0d6b1f","transparent","#ff1010"]}, "legend": {"title": null, "orient": "none", "legendX": 359, "legendY": 157, "rowPadding": 6, "labelExpr": "['0% TFE','2.5% TFE','5% TFE','7.5% TFE','10% TFE','12.5% TFE','15% TFE'][indexof(['a','b','c','d','e','f','g'],datum.label)]"}},
    "stroke": {"field": "k", "type": "nominal", "scale": {"domain": ["a","b","c","d","e","f","g"], "range": ["#10107a","#0a0af0","#4a9eff","#22ee22","#0d6b1f","#9c2e5a","#ff1010"]}, "legend": {"title": null, "orient": "none", "legendX": 359, "legendY": 157, "rowPadding": 6, "labelExpr": "['0% TFE','2.5% TFE','5% TFE','7.5% TFE','10% TFE','12.5% TFE','15% TFE'][indexof(['a','b','c','d','e','f','g'],datum.label)]"}},
    "shape": {"field": "k", "type": "nominal", "scale": {"domain": ["a","b","c","d","e","f","g"], "range": ["square","triangle-up","triangle-down","diamond","circle","square","triangle-up"]}, "legend": {"title": null, "orient": "none", "legendX": 359, "legendY": 157, "rowPadding": 6, "labelExpr": "['0% TFE','2.5% TFE','5% TFE','7.5% TFE','10% TFE','12.5% TFE','15% TFE'][indexof(['a','b','c','d','e','f','g'],datum.label)]"}},
    "order": {"field": "k", "type": "ordinal"}
  },
  "layer": [
    {"transform": [{"filter": {"field": "k", "oneOf": ["a","b","c","d","e"]}}], "mark": {"type": "point", "opacity": 1, "strokeWidth": 1, "size": 54}},
    {"transform": [{"filter": {"field": "k", "equal": "f"}}], "mark": {"type": "point", "opacity": 1, "strokeWidth": 1, "size": 28}},
    {"transform": [{"filter": {"field": "k", "equal": "g"}}], "mark": {"type": "point", "opacity": 1, "strokeWidth": 1, "size": 42}}
  ]
},
{
  "title": "1:1 Mixture",
  "width": 493, "height": 327,
  "data": {"name": "p3"},
  "transform": [{"fold": ["a","b","c","d","e","f","g"], "as": ["k","v"]}],
  "encoding": {
    "x": {"field": "x", "type": "quantitative", "scale": {"domain": [194, 260], "nice": false, "zero": false}, "axis": {"values": [200,210,220,230,240,250,260], "title": "Wavelenght, nm"}},
    "y": {"field": "v", "type": "quantitative", "scale": {"domain": [-40, 30], "nice": false}, "axis": {"values": [-40,-30,-20,-10,0,10,20,30], "title": "Millidegrees"}},
    "fill": {"field": "k", "type": "nominal", "scale": {"domain": ["a","b","c","d","e","f","g"], "range": ["#10107a","#0a0af0","#4a9eff","#22ee22","#0d6b1f","transparent","#ff1010"]}, "legend": {"title": null, "orient": "none", "legendX": 364, "legendY": 162, "rowPadding": 6, "labelExpr": "['0% TFE','2.5% TFE','5% TFE','7.5% TFE','10% TFE','12.5% TFE','15% TFE'][indexof(['a','b','c','d','e','f','g'],datum.label)]"}},
    "stroke": {"field": "k", "type": "nominal", "scale": {"domain": ["a","b","c","d","e","f","g"], "range": ["#10107a","#0a0af0","#4a9eff","#22ee22","#0d6b1f","#9c2e5a","#ff1010"]}, "legend": {"title": null, "orient": "none", "legendX": 364, "legendY": 162, "rowPadding": 6, "labelExpr": "['0% TFE','2.5% TFE','5% TFE','7.5% TFE','10% TFE','12.5% TFE','15% TFE'][indexof(['a','b','c','d','e','f','g'],datum.label)]"}},
    "shape": {"field": "k", "type": "nominal", "scale": {"domain": ["a","b","c","d","e","f","g"], "range": ["square","triangle-up","triangle-down","diamond","circle","square","triangle-up"]}, "legend": {"title": null, "orient": "none", "legendX": 364, "legendY": 162, "rowPadding": 6, "labelExpr": "['0% TFE','2.5% TFE','5% TFE','7.5% TFE','10% TFE','12.5% TFE','15% TFE'][indexof(['a','b','c','d','e','f','g'],datum.label)]"}},
    "order": {"field": "k", "type": "ordinal"}
  },
  "layer": [
    {"transform": [{"filter": {"field": "k", "oneOf": ["a","b","c","d","e"]}}], "mark": {"type": "point", "opacity": 1, "strokeWidth": 1, "size": 56}},
    {"transform": [{"filter": {"field": "k", "equal": "f"}}], "mark": {"type": "point", "opacity": 1, "strokeWidth": 1, "size": 30}},
    {"transform": [{"filter": {"field": "k", "equal": "g"}}], "mark": {"type": "point", "opacity": 1, "strokeWidth": 1, "size": 44}}
  ]
},
{
  "title": "Difference Spectra",
  "width": 493, "height": 327,
  "data": {"name": "p4"},
  "transform": [{"fold": ["a","b","c","d","e","f","g"], "as": ["k","v"]}],
  "encoding": {
    "x": {"field": "x", "type": "quantitative", "scale": {"domain": [194, 260], "nice": false, "zero": false}, "axis": {"values": [200,210,220,230,240,250,260], "title": "Wavelenght, nm"}},
    "y": {"field": "v", "type": "quantitative", "scale": {"domain": [-10, 10], "nice": false}, "axis": {"values": [-10,-5,0,5,10], "title": "Millidegrees"}},
    "fill": {"field": "k", "type": "nominal", "scale": {"domain": ["a","b","c","d","e","f","g"], "range": ["#10107a","#0a0af0","#4a9eff","#22ee22","#0d6b1f","transparent","#ff1010"]}, "legend": {"title": null, "orient": "none", "legendX": 358, "legendY": 7, "rowPadding": 3, "labelExpr": "['0% TFE','2.5% TFE','5% TFE','7.5% TFE','10% TFE','12.5% TFE','15% TFE'][indexof(['a','b','c','d','e','f','g'],datum.label)]"}},
    "stroke": {"field": "k", "type": "nominal", "scale": {"domain": ["a","b","c","d","e","f","g"], "range": ["#10107a","#0a0af0","#4a9eff","#22ee22","#0d6b1f","#9c2e5a","#ff1010"]}, "legend": {"title": null, "orient": "none", "legendX": 358, "legendY": 7, "rowPadding": 3, "labelExpr": "['0% TFE','2.5% TFE','5% TFE','7.5% TFE','10% TFE','12.5% TFE','15% TFE'][indexof(['a','b','c','d','e','f','g'],datum.label)]"}},
    "shape": {"field": "k", "type": "nominal", "scale": {"domain": ["a","b","c","d","e","f","g"], "range": ["square","triangle-up","triangle-down","diamond","circle","square","triangle-up"]}, "legend": {"title": null, "orient": "none", "legendX": 358, "legendY": 7, "rowPadding": 3, "labelExpr": "['0% TFE','2.5% TFE','5% TFE','7.5% TFE','10% TFE','12.5% TFE','15% TFE'][indexof(['a','b','c','d','e','f','g'],datum.label)]"}},
    "order": {"field": "k", "type": "ordinal"}
  },
  "layer": [
    {"transform": [{"filter": {"field": "k", "oneOf": ["a","b","c","d","e"]}}], "mark": {"type": "point", "opacity": 1, "strokeWidth": 1, "size": 60}},
    {"transform": [{"filter": {"field": "k", "equal": "f"}}], "mark": {"type": "point", "opacity": 1, "strokeWidth": 1.5, "size": 55}},
    {"transform": [{"filter": {"field": "k", "equal": "g"}}], "mark": {"type": "point", "opacity": 1, "strokeWidth": 1, "size": 48}}
  ]
}
],
"resolve": {
  "scale": {"x": "independent", "y": "independent", "fill": "independent", "stroke": "independent", "shape": "independent"},
  "legend": {"fill": "independent", "stroke": "independent", "shape": "independent"}
}
}
